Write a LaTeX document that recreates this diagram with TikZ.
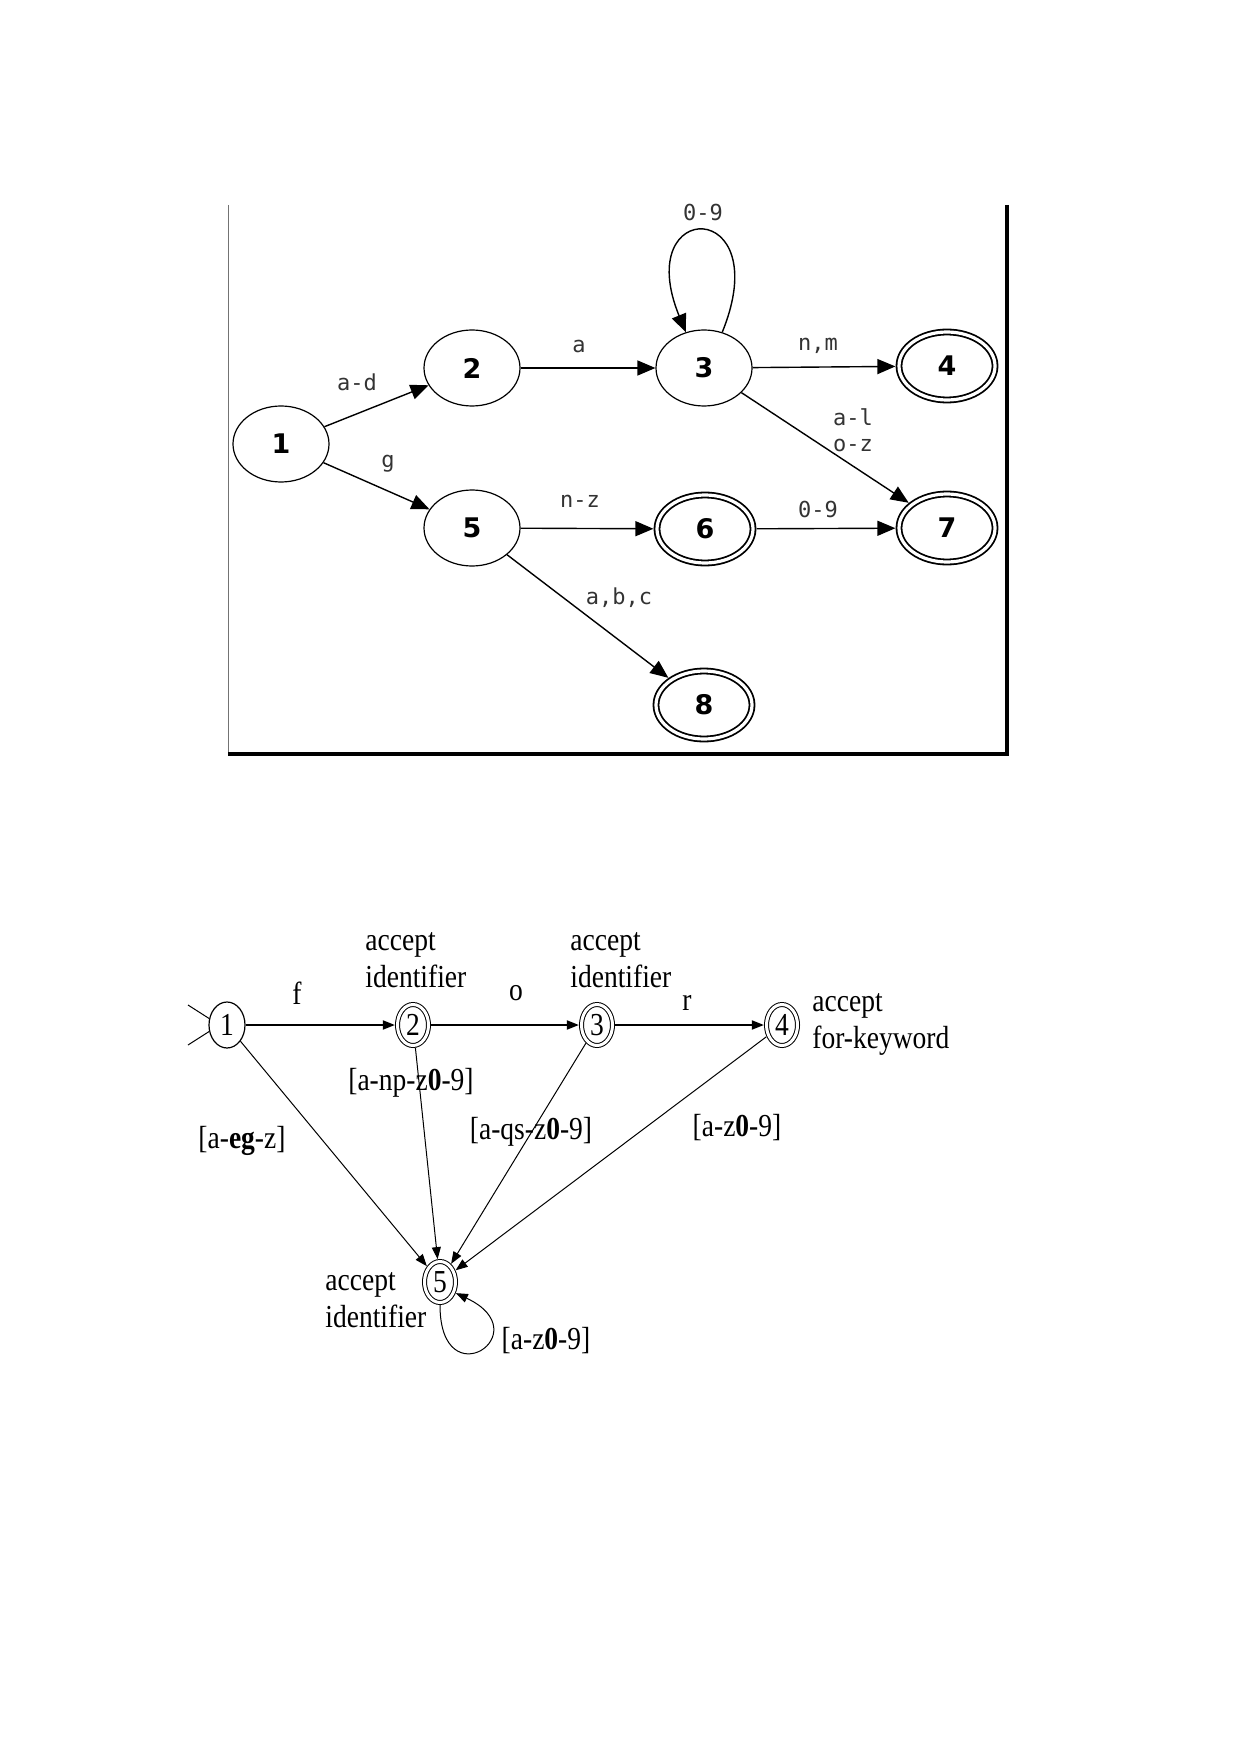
\documentclass[tikz,border=0pt]{standalone}
\usepackage{fontspec}
\usepackage{tikz}
\usetikzlibrary{shapes.geometric, arrows.meta, positioning, calc}
\newfontfamily\edgefont{DejaVu Sans Mono}
\newfontfamily\statefont{DejaVu Sans}
\newfontfamily\noteserif[FakeStretch=0.86]{Liberation Serif}

\begin{document}
\begin{tikzpicture}[x=0.5pt, y=-0.5pt]
  \tikzset{
    tstate/.style={
      ellipse, draw, line width=0.6pt,
      minimum width=48pt, minimum height=38pt,
      inner sep=0pt, outer sep=0.3pt,
      font=\statefont\bfseries\fontsize{13.5}{15}\selectfont
    },
    tfinal/.style={
      tstate, line width=0.9pt, double, double distance=1.6pt,
      minimum width=48pt, minimum height=34pt, outer sep=1.8pt
    },
    tedge/.style={-{Triangle[length=9pt, width=7.5pt]}, line width=0.7pt},
    tlabel/.style={
      font=\edgefont\fontsize{11}{13}\selectfont,
      text=black!80, inner sep=0pt, align=center
    },
    bstate/.style={
      ellipse, draw, line width=0.6pt,
      minimum width=18pt, minimum height=23pt, inner sep=0pt,
      font=\noteserif\fontsize{16}{18}\selectfont
    },
    bfinal/.style={
      bstate, double, line width=0.5pt, double distance=1.5pt,
      minimum width=15.5pt, minimum height=20.5pt, outer sep=1.3pt
    },
    bedge/.style={-{Triangle[length=6pt, width=4.5pt]}, line width=0.5pt},
    blabel/.style={
      font=\noteserif\fontsize{16}{18.5}\selectfont,
      inner sep=0pt, align=left
    }
  }
  \useasboundingbox (0,0) rectangle (1241,1754);

  % upper automaton, framed on left, right and bottom
  \draw[black!55, line width=0.5pt] (228,205) -- (228,754);
  \draw[line width=1.8pt] (1007,205) -- (1007,755);
  \draw[line width=2pt] (228,754) -- (1009,754);

  \node[tstate] (t1) at (281,444) {1};
  \node[tstate] (t2) at (472,368) {2};
  \node[tstate] (t3) at (704,368) {3};
  \node[tfinal] (t4) at (947,366) {4};
  \node[tstate] (t5) at (472,528) {5};
  \node[tfinal] (t6) at (705,529) {6};
  \node[tfinal] (t7) at (947,528) {7};
  \node[tfinal] (t8) at (704,705) {8};

  \foreach \from/\to in {t1/t2, t1/t5, t2/t3, t3/t4, t3/t7, t5/t6, t6/t7, t5/t8}{
    \draw[tedge] (\from) -- (\to);
  }
  \draw[tedge] (t3.63) .. controls +(55,-135) and +(-55,-135) .. (t3.117);

  \node[tlabel] (lt12) at (357,382) {a-d};
  \node[tlabel] (lt15) at (388,464) {g};
  \node[tlabel] (lt23) at (579,346) {a};
  \node[tlabel] (lt33) at (703,212) {0-9};
  \node[tlabel] (lt34) at (818,346) {n,m};
  \node[tlabel] (lt37) at (853,430) {a-l\\o-z};
  \node[tlabel] (lt56) at (580,501) {n-z};
  \node[tlabel] (lt67) at (818,509) {0-9};
  \node[tlabel] (lt58) at (619,598) {a,b,c};

  % lower automaton: keyword "for" vs identifiers
  \node[bstate] (b1) at (227,1025) {1};
  \node[bfinal] (b2) at (413,1025) {2};
  \node[bfinal] (b3) at (597,1025) {3};
  \node[bfinal] (b4) at (782,1025) {4};
  \node[bfinal] (b5) at (440,1282) {5};

  \coordinate (s1) at (188,1005);
  \coordinate (s2) at (188,1045);
  \draw[line width=0.5pt] (s1) -- (b1.160);
  \draw[line width=0.5pt] (s2) -- (b1.200);

  \foreach \from/\to in {b1/b2, b2/b3, b3/b4}{
    \draw[bedge, line width=0.9pt] (\from) -- (\to);
  }
  \foreach \from in {b1, b2, b3, b4}{
    \draw[bedge] (\from) -- (b5);
  }
  \draw[bedge] (b5.south) .. controls +(0,95) and +(85,40) .. (b5.-35);

  \node[blabel, anchor=base] (lf) at (297,1004) {f};
  \node[blabel, anchor=base] (lo) at (516,1000) {o};
  \node[blabel, anchor=base] (lr) at (687,1010) {r};

  \node[blabel, anchor=west] (acc2) at (365,960) {accept\\identifier};
  \node[blabel, anchor=west] (acc3) at (570,960) {accept\\identifier};
  \node[blabel, anchor=west] (acc4) at (812,1024) {accept\\for-keyword};
  \node[blabel, anchor=west] (acc5) at (325,1300) {accept\\identifier};

  \node[blabel] (lb15) at (242,1141) {[a-\textbf{eg}-z]};
  \node[blabel] (lb25) at (411,1083) {[a-np-z\textbf{0}-9]};
  \node[blabel] (lb35) at (531,1132) {[a-qs-z\textbf{0}-9]};
  \node[blabel] (lb45) at (737,1128) {[a-z\textbf{0}-9]};
  \node[blabel] (lb55) at (546,1341) {[a-z\textbf{0}-9]};
\end{tikzpicture}
\end{document}
